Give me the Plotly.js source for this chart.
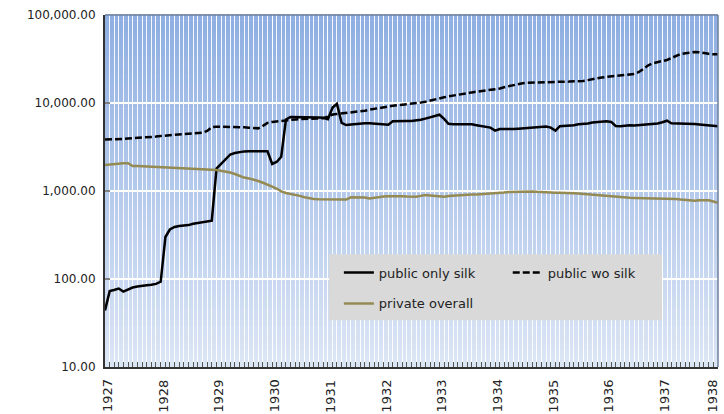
<!DOCTYPE html>
<html>
<head>
<meta charset="utf-8">
<script src="https://cdn.plot.ly/plotly-3.0.1.min.js"></script>
<style>html,body{margin:0;padding:0;background:#fff;}#chart{width:724px;height:414px;}</style>
</head>
<body>
<div id="chart"></div>
<script>
// Monthly series, January 1927 .. January 1938
var startYear = 1927;
var publicOnlySilk = [
  44, 73, 75, 78, 72, 76, 80, 82, 84, 85, 86, 88,
  93, 300, 365, 390, 400, 405, 410, 425, 435, 445, 455, 460,
  1800, 2050, 2300, 2600, 2700, 2780, 2820, 2830, 2830, 2830, 2830, 2830,
  2030, 2150, 2450, 6500, 6950, 6950, 6950, 6950, 6950, 6900, 6850, 6800,
  6550, 8900, 9800, 5950, 5620, 5700, 5800, 5850, 5900, 5900, 5850, 5800,
  5700, 5650, 6200, 6250, 6250, 6250, 6250, 6300, 6450, 6650, 6850, 7100,
  7360, 6600, 5800, 5750, 5750, 5750, 5750, 5720, 5600, 5450, 5350, 5250,
  4850, 5070, 5050, 5000, 5050, 5100, 5150, 5200, 5250, 5300, 5350, 5400,
  5250, 4840, 5450, 5480, 5480, 5600, 5730, 5750, 5850, 6000, 6080, 6150,
  6190, 6100, 5480, 5450, 5550, 5580, 5550, 5600, 5650, 5700, 5750, 5850,
  6050, 6290, 5890, 5880, 5870, 5850, 5800, 5770, 5700, 5620, 5550, 5450,
  5430
];
var publicWoSilk = [
  3860, 3860, 3860, 3860, 3900, 3950, 3970, 4000, 4030, 4060, 4100, 4150,
  4220, 4260, 4300, 4340, 4380, 4420, 4460, 4500, 4550, 4600, 4810, 5300,
  5380, 5380, 5350, 5300, 5300, 5300, 5300, 5250, 5150, 5150, 5500, 5950,
  6100, 6200, 6250, 6400, 6450, 6500, 6550, 6600, 6650, 6680, 6700, 6720,
  7000, 7400, 7500, 7600, 7680, 7760, 7830, 8000, 8180, 8400, 8600, 8800,
  8950, 9100, 9300, 9450, 9550, 9650, 9750, 9850, 10100, 10350, 10700, 11000,
  11300, 11600, 11900, 12100, 12300, 12600, 12900, 13200, 13400, 13600, 13800, 14000,
  14300, 14600, 15100, 15500, 16000, 16500, 16800, 17000, 17100, 17200, 17300, 17350,
  17400, 17450, 17450, 17470, 17500, 17550, 17650, 17780, 18200, 18700, 19100, 19500,
  19800, 20100, 20300, 20600, 20900, 21100, 21380, 22500, 24500, 26800, 28300, 29300,
  30000, 30800, 32500, 34500, 36000, 36800, 37500, 38000, 37800, 36800, 36200, 35800,
  35700
];
var privateOverall = [
  1975, 2000, 2030, 2065, 2065, 2065, 1925, 1920, 1910, 1900, 1890, 1890,
  1880, 1850, 1830, 1820, 1810, 1810, 1800, 1790, 1780, 1770, 1760, 1745,
  1733, 1700, 1670, 1620, 1560, 1490, 1420, 1390, 1350, 1300, 1240, 1190,
  1120, 1060, 990, 950, 930, 905, 880, 850, 825, 812, 806, 806,
  806, 806, 806, 806, 800, 848, 848, 848, 845, 822, 840, 855,
  865, 872, 877, 875, 870, 865, 862, 860, 880, 900, 890, 875,
  870, 861, 875, 885, 890, 900, 905, 910, 915, 920, 925, 930,
  938, 945, 960, 975, 980, 985, 990, 993, 990, 980, 970, 965,
  960, 958, 955, 955, 950, 945, 935, 925, 915, 908, 901, 890,
  875, 862, 850, 845, 840, 838, 835, 832, 830, 828, 826, 826,
  826, 826, 820, 812, 800, 790, 780, 776, 785, 790, 785, 760,
  736
];
var seriesNames = ['public only silk', 'public wo silk', 'private overall'];
var yTickVals = [10, 100, 1000, 10000, 100000];
var yTickText = ['10.00', '100.00', '1,000.00', '10,000.00', '100,000.00'];
var yearTickVals = ['1927', '1928', '1929', '1930', '1931', '1932', '1933', '1934', '1935', '1936', '1937', '1938'];

(function () {
  // month dates for the x axis
  var months = [];
  for (var i = 0; i < publicOnlySilk.length; i++) {
    var yr = startYear + Math.floor(i / 12);
    var m = (i % 12) + 1;
    months.push(yr + '-' + (m < 10 ? '0' + m : m) + '-01');
  }

  var FONT = 'DejaVu Sans, Liberation Sans, sans-serif';

  var traces = [
    {x: months, y: publicOnlySilk, name: seriesNames[0], type: 'scatter', mode: 'lines',
     line: {color: '#000000', width: 2.5}, legend: 'legend', legendgroup: 'a', legendrank: 1},
    {x: months, y: publicWoSilk, name: seriesNames[1], type: 'scatter', mode: 'lines',
     line: {color: '#000000', width: 2.5, dash: '7px,3px'}, legend: 'legend2', legendgroup: 'b'},
    {x: months, y: privateOverall, name: seriesNames[2], type: 'scatter', mode: 'lines',
     line: {color: '#948a54', width: 2.5}, legend: 'legend', legendgroup: 'c', legendrank: 2}
  ];

  // vertical gradient background (decorative bands)
  var shapes = [];
  var nb = 60;
  var cTop = [142, 174, 225], cBot = [220, 230, 245];
  for (var k = 0; k < nb; k++) {
    var t = (k + 0.5) / nb; // 0 bottom -> 1 top
    var c = [0, 1, 2].map(function (j) { return Math.round(cBot[j] + (cTop[j] - cBot[j]) * t); });
    shapes.push({type: 'rect', xref: 'paper', yref: 'paper', x0: 0, x1: 1, y0: k / nb, y1: (k + 1) / nb + 0.002,
      fillcolor: 'rgb(' + c.join(',') + ')', line: {width: 0}, layer: 'below'});
  }
  // legend box
  shapes.push({type: 'rect', xref: 'paper', yref: 'paper', x0: 0.3654, x1: 0.9086, y0: 0.133, y1: 0.320,
    fillcolor: '#d9d9d9', line: {width: 0}, layer: 'above'});
  // top and right frame
  shapes.push({type: 'line', xref: 'paper', yref: 'paper', x0: 0, x1: 1, y0: 1, y1: 1, line: {color: '#6f819e', width: 1.5}, layer: 'above'});
  shapes.push({type: 'line', xref: 'paper', yref: 'paper', x0: 1, x1: 1, y0: 0, y1: 1, line: {color: '#6f819e', width: 1.5}, layer: 'above'});

  // rotated year labels drawn as annotations placed on the x axis scale
  var annotations = yearTickVals.map(function (yv, idx) {
    var last = idx === yearTickVals.length - 1;
    return {xref: 'x', yref: 'paper', x: yv + '-01-01', y: -0.03,
      xanchor: last ? 'right' : 'center', yanchor: 'top',
      text: yv, textangle: -90, showarrow: false, xshift: last ? 4 : 2,
      font: {family: FONT, size: 13, color: '#222222'}};
  });

  var layout = {
    width: 724, height: 414,
    margin: {l: 105, r: 6, t: 15, b: 47},
    paper_bgcolor: '#ffffff',
    plot_bgcolor: 'rgba(0,0,0,0)',
    font: {family: FONT, size: 13, color: '#222222'},
    showlegend: true,
    xaxis: {
      type: 'date',
      range: ['1927-01-01', '1938-01-01'],
      tickmode: 'array', tickvals: yearTickVals, ticktext: yearTickVals,
      showticklabels: false,
      ticks: 'inside', ticklen: 5, tickcolor: '#555555', tickwidth: 1,
      showgrid: true, gridcolor: 'rgba(255,255,255,0.9)', gridwidth: 1,
      minor: {dtick: 'M1', tick0: '1927-01-01', ticks: 'inside', ticklen: 5, tickcolor: '#555555', tickwidth: 1,
              showgrid: true, gridcolor: 'rgba(255,255,255,0.9)', gridwidth: 1},
      showline: true, linecolor: '#333333', linewidth: 1.5,
      zeroline: false, automargin: false
    },
    yaxis: {
      type: 'log',
      range: [1, 5],
      tickvals: yTickVals, ticktext: yTickText,
      ticks: 'inside', ticklen: 5, tickcolor: '#808080', tickwidth: 1.5,
      ticklabelstandoff: 5,
      showgrid: true, gridcolor: '#ffffff', gridwidth: 1.5,
      showline: true, linecolor: '#333333', linewidth: 2,
      zeroline: false,
      tickfont: {family: FONT, size: 12, color: '#222222'}
    },
    legend: {
      x: 0.3815, y: 0.311, xanchor: 'left', yanchor: 'top',
      orientation: 'v', bgcolor: 'rgba(0,0,0,0)', borderwidth: 0,
      tracegroupgap: 11,
      font: {family: FONT, size: 13, color: '#222222'}
    },
    legend2: {
      x: 0.657, y: 0.311, xanchor: 'left', yanchor: 'top',
      orientation: 'v', bgcolor: 'rgba(0,0,0,0)', borderwidth: 0,
      font: {family: FONT, size: 13, color: '#222222'}
    },
    annotations: annotations,
    shapes: shapes
  };

  Plotly.newPlot('chart', traces, layout, {displayModeBar: false, staticPlot: true});
})();
</script>
</body>
</html>
